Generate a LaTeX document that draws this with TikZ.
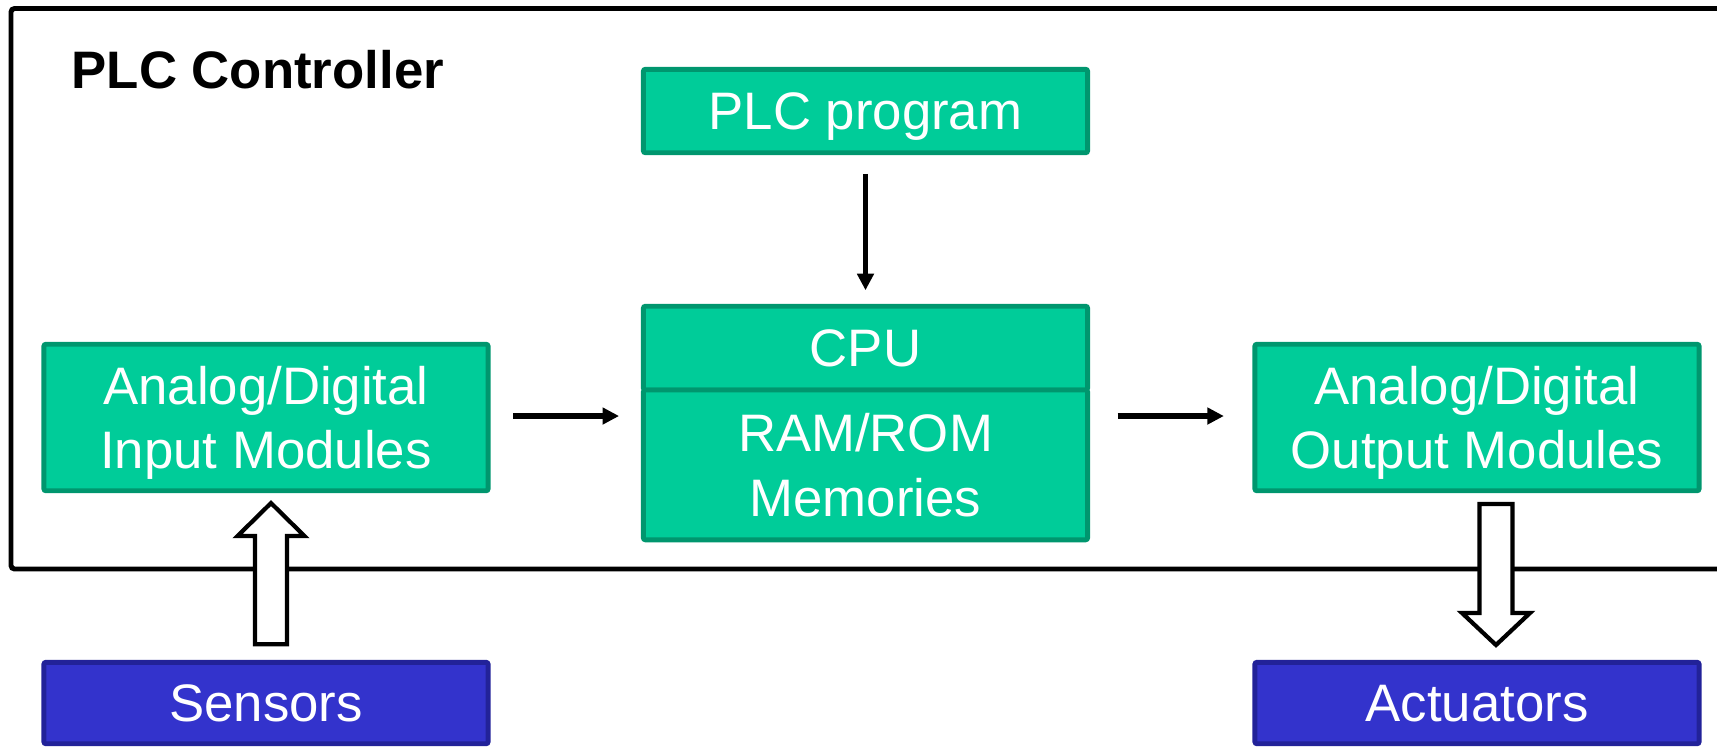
\documentclass[tikz,border=0pt]{standalone}
\usepackage{fontspec}
\setmainfont{Liberation Sans}
\usetikzlibrary{calc,arrows.meta}
\definecolor{modfill}{RGB}{0,204,153}
\definecolor{modline}{RGB}{0,150,110}
\definecolor{devfill}{RGB}{51,51,204}
\definecolor{devline}{RGB}{34,34,153}
\begin{document}
\begin{tikzpicture}[x=0.01cm,y=-0.01cm,
  module/.style={draw=modline, fill=modfill, line width=1.4pt, text=white,
    minimum width=4.44cm, inner sep=0pt, outer sep=0pt, align=center,
    text depth=0pt,
    font=\fontsize{15}{18.4}\selectfont, rounded corners=0.6pt},
  device/.style={module, draw=devline, fill=devfill},
  flow/.style={line width=1.5pt, -{Triangle[length=4.7pt,width=4.6pt]}},
  hollow/.style={draw=black, fill=white, line width=1.2pt, line join=miter},
  frame/.style={draw=black, line width=1.4pt, rounded corners=1pt}]
\useasboundingbox (0,0) rectangle (1717,747);
\clip (0,0) rectangle (1717,747);

% controller enclosure (runs off the right edge)
\draw[frame] (11,8.5) rectangle (1780,569);
\node[anchor=base west, inner sep=0pt, font=\bfseries\fontsize{15}{18}\selectfont] (title) at (71,88) {PLC Controller};

% modules
\node[module, minimum height=0.834cm] (prog) at (865.5,111) {PLC program};
\node[module, minimum height=0.837cm] (cpu) at (865.5,348.1) {CPU};
\node[module, minimum height=1.497cm] (ram) at (865.5,464.9) {RAM/ROM\\Memories};
\node[module, minimum height=1.464cm] (input) at (266,417.5) {Analog/Digital\\Input Modules};
\node[module, minimum height=1.464cm] (output) at (1477,417.5) {Analog/Digital\\Output Modules};

% field devices
\node[device, minimum height=0.814cm] (sensors) at (266,703) {Sensors};
\node[device, minimum height=0.814cm] (actuators) at (1477,703) {Actuators};

% signal flow inside the controller
\draw[flow, shorten <=0.21cm, shorten >=0.16cm] (prog.south) -- (cpu.north);
\draw[flow, shorten <=0.253cm, shorten >=0.243cm] ([yshift=0.015cm]input.east) -- ([yshift=0.015cm]input.east -| ram.west);
\draw[flow, shorten <=0.30cm, shorten >=0.31cm] ([yshift=0.015cm]ram.east |- input.east) -- ([yshift=0.015cm]output.west);

% hollow arrow: sensors -> input modules
\coordinate (uptip) at ($(input.south)+(5,12.3)$);
\coordinate (upbase) at ($(sensors.north)+(5,-18)$);
\draw[hollow] (uptip) -- ($(uptip)+(33.5,33)$) -- ($(uptip)+(16,33)$)
  -- ($(upbase)+(16,0)$) -- ($(upbase)+(-16,0)$) -- ($(uptip)+(-16,33)$)
  -- ($(uptip)+(-33.5,33)$) -- cycle;

% hollow arrow: output modules -> actuators
\coordinate (dntop) at ($(output.south)+(19,13.3)$);
\coordinate (dntip) at ($(actuators.north)+(19,-17.3)$);
\draw[hollow] ($(dntop)+(-16.5,0)$) -- ($(dntop)+(16.5,0)$) -- ($(dntip)+(16.5,-32)$)
  -- ($(dntip)+(34,-32)$) -- (dntip) -- ($(dntip)+(-34,-32)$)
  -- ($(dntip)+(-16.5,-32)$) -- cycle;
\end{tikzpicture}
\end{document}
